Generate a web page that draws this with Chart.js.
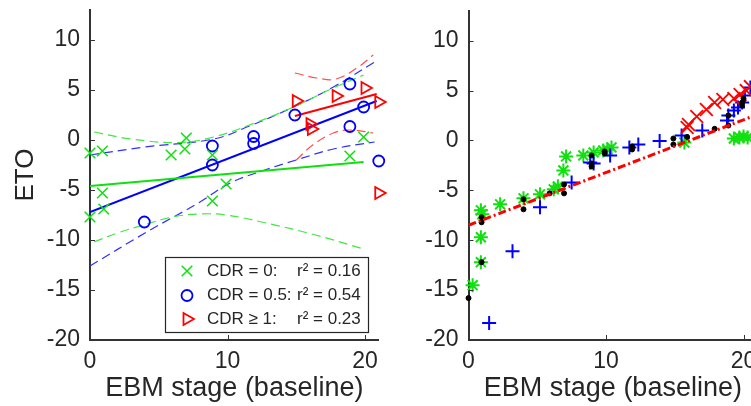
<!DOCTYPE html>
<html>
<head>
<meta charset="utf-8">
<script src="https://cdn.jsdelivr.net/npm/chart.js@4.4.0/dist/chart.umd.min.js"></script>
<style>
  html, body { margin: 0; padding: 0; background: #fff; overflow: hidden; width: 751px; height: 406px; }
  .panel { position: absolute; top: 0; height: 406px; }
  #left-panel { left: 0; width: 390px; }
  #right-panel { left: 390px; width: 400px; }
</style>
</head>
<body>
<div class="panel" id="left-panel"><canvas id="eto-by-cdr" width="390" height="406"></canvas></div>
<div class="panel" id="right-panel"><canvas id="eto-quantiles" width="400" height="406"></canvas></div>
<script>
// shared axis ticks
var yTickValues = [-20, -15, -10, -5, 0, 5, 10];
var xTickValues = [0, 10, 20];

// left panel: ETO against baseline EBM stage, by CDR group
var cdr0Stage = [0, 0.9, 5.9, 6.9, 7, 8.9, 9.9, 8.9, 0.9, 1, 0, 19.9, 18.9];
var cdr0Eto = [-1.3, -1.1, -1.5, -0.9, 0.2, -1.5, -4.4, -6.1, -5.3, -6.9, -7.7, 0.3, -1.6];
var cdr05Stage = [3.95, 8.9, 8.9, 11.9, 11.9, 14.9, 18.9, 18.9, 19.9, 21];
var cdr05Eto = [-8.2, -0.6, -2.5, 0.35, -0.35, 2.5, 5.6, 1.35, 3.3, -2.1];
var cdr1Stage = [15, 17.9, 20, 21, 16, 16.1, 21];
var cdr1Eto = [3.9, 4.4, 5.2, 3.8, 1.6, 1.1, -5.3];

// fitted lines and their confidence bounds
var cdr0FitStage = [0, 19.9];
var cdr0FitEto = [-4.6, -2.2];
var cdr05FitStage = [0, 20.85];
var cdr05FitEto = [-7.2, 3.9];
var cdr1FitStage = [14.9, 20.85];
var cdr1FitEto = [2.4, 4.6];

var cdr0UpperStage = [0.3, 3, 6.5, 9, 11.6, 14.8, 17.7, 19.9];
var cdr0UpperEto = [0.8, 0.1, -0.25, 0.3, 1.5, 3.3, 5.2, 6.5];
var cdr0LowerStage = [0.3, 2, 3.9, 6, 8, 9.9, 12.8, 16.4, 19.9];
var cdr0LowerEto = [-10.2, -9.3, -8.5, -7.7, -7.4, -7.5, -8.3, -9.5, -10.9];
var cdr05UpperStage = [0, 4, 9, 11.6, 14.8, 17.7, 20.7];
var cdr05UpperEto = [-1.5, -0.7, 0.1, 1.4, 3.3, 5.3, 7.8];
var cdr05LowerStage = [0, 4, 8, 10.2, 12.5, 15, 17.7, 20.7];
var cdr05LowerEto = [-12.6, -9.3, -6.2, -4.3, -3.1, -2, -0.9, -0.2];
var cdr1UpperStage = [14.9, 16.5, 17.9, 19.4, 20.6];
var cdr1UpperEto = [6.7, 6.2, 6.1, 7.2, 8.5];
var cdr1LowerStage = [15, 16.2, 17.7, 18.9, 20.6];
var cdr1LowerEto = [-2, -0.5, 0.7, 1.0, 0.7];

// right panel: quantiles and per-group correlation
var pearsonStage = [0, 21];
var pearsonEto = [-8.5, 2.6];
var quantStage = [0, 0.95, 0.95, 0.95, 4.0, 4.0, 5.9, 6.95, 6.95, 8.95, 8.95, 8.95, 9.9, 9.9, 11.9, 11.9, 14.9, 14.9, 15.9, 17.9, 18.9, 18.9, 19.9, 19.9, 20.0];
var quantEto = [-15.8, -12.2, -7.7, -8.2, -5.9, -6.9, -5.3, -5.3, -4.4, -1.5, -2.3, -2.6, -1.1, -1.3, -0.6, -0.9, 0.2, -0.4, 0.35, 1.17, 2.5, 1.5, 3.8, 3.5, 4.2];
var rCdr0Stage = [0.3, 0.9, 0.9, 0.9, 1.0, 2.3, 4.0, 5.2, 6.2, 6.5, 6.9, 7.1, 8.35, 9.1, 9.8, 10.1, 10.4, 15.7, 19.3, 19.7, 20.0, 20.3];
var rCdr0Eto = [-14.5, -12.2, -9.7, -7.0, -7.4, -6.4, -5.8, -5.4, -4.9, -4.6, -3.0, -1.6, -1.5, -1.2, -1.0, -0.9, -0.7, -0.2, 0.2, 0.3, 0.4, 0.3];
var rCdr05Stage = [1.5, 3.2, 5.2, 7.5, 8.85, 9.1, 10.3, 11.7, 12.35, 13.9, 15.5, 17.0, 18.8, 18.9, 19.3, 19.6, 19.9, 20.1, 20.5];
var rCdr05Eto = [-18.3, -11.1, -6.7, -4.2, -2.2, -2.3, -1.5, -0.7, -0.4, -0.05, 0.5, 1.0, 2.0, 2.5, 3.0, 3.3, 3.8, 4.5, 5.3];
var rCdr1Stage = [15.9, 16.0, 16.6, 17.3, 17.9, 18.5, 19.3, 19.75, 20.2, 20.5];
var rCdr1Eto = [1.3, 1.6, 2.4, 3.1, 3.8, 4.1, 4.2, 4.6, 5.0, 5.4];

var GREEN = '#10e010', BLUE = '#0000ff', RED = '#ff0000';
var TEXT = '#262626', AXIS = '#333333';

Chart.defaults.font.family = '"Liberation Sans", Arial, Helvetica, sans-serif';
Chart.defaults.color = TEXT;

function toPoints(xs, ys) {
  var pts = [];
  for (var i = 0; i < xs.length; i++) pts.push({ x: xs[i], y: ys[i] });
  return pts;
}

function markers(xs, ys, color, style, radius, extra) {
  var ds = {
    data: toPoints(xs, ys),
    showLine: false,
    pointStyle: style,
    pointRadius: radius,
    pointBorderColor: color,
    pointBackgroundColor: 'rgba(0,0,0,0)',
    pointBorderWidth: 1.5,
    clip: false
  };
  for (var k in extra) ds[k] = extra[k];
  return ds;
}

function line(xs, ys, color, width, dash, tension) {
  return {
    data: toPoints(xs, ys),
    showLine: true,
    pointRadius: 0,
    borderColor: color,
    borderWidth: width,
    borderDash: dash || [],
    tension: tension || 0,
    fill: false
  };
}

// tick marks drawn pointing into the plot
var insideTicks = {
  id: 'insideTicks',
  afterDatasetsDraw: function (chart) {
    var ctx = chart.ctx, area = chart.chartArea;
    var xs = chart.scales.x, ys = chart.scales.y;
    ctx.save();
    ctx.strokeStyle = AXIS;
    ctx.lineWidth = 1;
    ctx.beginPath();
    xs.ticks.forEach(function (t) {
      var px = Math.round(xs.getPixelForValue(t.value)) + 0.5;
      ctx.moveTo(px, area.bottom);
      ctx.lineTo(px, area.bottom - 5);
    });
    ys.ticks.forEach(function (t) {
      var py = Math.round(ys.getPixelForValue(t.value)) + 0.5;
      ctx.moveTo(area.left, py);
      ctx.lineTo(area.left + 5, py);
    });
    ctx.stroke();
    ctx.restore();
  }
};

// boxed legend inside the axes, one row per dataset
function boxLegend(cfg) {
  return {
    id: 'boxLegend',
    afterDraw: function (chart) {
      var ctx = chart.ctx;
      ctx.save();
      ctx.fillStyle = '#fff';
      ctx.fillRect(cfg.left, cfg.top, cfg.width, cfg.height);
      ctx.strokeStyle = TEXT;
      ctx.lineWidth = 1.2;
      ctx.strokeRect(cfg.left + 0.5, cfg.top + 0.5, cfg.width, cfg.height);
      ctx.font = '17px "Liberation Sans", Arial, sans-serif';
      ctx.textBaseline = 'middle';
      cfg.rows.forEach(function (row) {
        var ds = chart.data.datasets[row.dataset];
        ctx.save();
        if (ds.showLine) {
          ctx.strokeStyle = ds.borderColor;
          ctx.lineWidth = ds.borderWidth;
          ctx.setLineDash(ds.borderDash || []);
          ctx.beginPath();
          ctx.moveTo(cfg.markerX - 16, row.y);
          ctx.lineTo(cfg.markerX + 16, row.y);
          ctx.stroke();
        } else {
          ctx.strokeStyle = ds.pointBorderColor;
          ctx.fillStyle = ds.pointBackgroundColor;
          ctx.lineWidth = ds.pointBorderWidth;
          Chart.helpers.drawPoint(ctx, {
            pointStyle: ds.pointStyle,
            rotation: ds.pointRotation || 0,
            radius: ds.pointRadius,
            borderWidth: ds.pointBorderWidth
          }, cfg.markerX, row.y);
        }
        ctx.restore();
        ctx.fillStyle = TEXT;
        ctx.fillText(row.label, cfg.textX, row.y);
        if (row.stat) ctx.fillText(row.stat, cfg.statX, row.y);
      });
      ctx.restore();
    }
  };
}

function scales(yWidth, yTitle) {
  return {
    x: {
      type: 'linear', min: 0, max: 21,
      afterBuildTicks: function (s) { s.ticks = xTickValues.map(function (v) { return { value: v }; }); },
      afterFit: function (s) { s.height = 66; s.paddingLeft = 0; s.paddingRight = 0; },
      grid: { display: false, drawTicks: false },
      border: { display: true, color: AXIS, width: 2 },
      ticks: { color: TEXT, font: { size: 23 }, padding: 8, maxRotation: 0, autoSkip: false },
      title: { display: true, text: 'EBM stage (baseline)', color: TEXT, font: { size: 27 }, padding: { top: 0, bottom: 1 } }
    },
    y: {
      type: 'linear', min: -20, max: 13,
      afterBuildTicks: function (s) { s.ticks = yTickValues.map(function (v) { return { value: v }; }); },
      afterFit: function (s) { s.width = yWidth; s.paddingTop = 0; s.paddingBottom = 0; },
      grid: { display: false, drawTicks: false },
      border: { display: true, color: AXIS, width: 2 },
      ticks: { color: TEXT, font: { size: 23 }, padding: 10, autoSkip: false },
      title: { display: !!yTitle, text: yTitle || '', color: TEXT, font: { size: 26 }, padding: { top: 10, bottom: 0 } }
    }
  };
}

var baseOptions = function (yWidth, yTitle, rightPad) {
  return {
    responsive: false,
    animation: false,
    devicePixelRatio: 1,
    events: [],
    layout: { padding: { left: 0, top: 10, right: rightPad, bottom: 0 } },
    plugins: { legend: { display: false }, tooltip: { enabled: false } },
    scales: scales(yWidth, yTitle)
  };
};

new Chart(document.getElementById('eto-by-cdr'), {
  type: 'scatter',
  data: {
    datasets: [
      markers(cdr0Stage, cdr0Eto, GREEN, 'crossRot', 7.5),
      markers(cdr05Stage, cdr05Eto, BLUE, 'circle', 5.5, { pointBorderWidth: 1.8 }),
      markers(cdr1Stage, cdr1Eto, RED, 'triangle', 7, { pointRotation: 90, pointBorderWidth: 1.8 }),
      line(cdr0FitStage, cdr0FitEto, GREEN, 2),
      line(cdr05FitStage, cdr05FitEto, BLUE, 2),
      line(cdr1FitStage, cdr1FitEto, RED, 2),
      line(cdr0UpperStage, cdr0UpperEto, '#40e840', 1.2, [9, 5], 0.4),
      line(cdr0LowerStage, cdr0LowerEto, '#40e840', 1.2, [9, 5], 0.4),
      line(cdr05UpperStage, cdr05UpperEto, '#3030ff', 1.2, [9, 5], 0.4),
      line(cdr05LowerStage, cdr05LowerEto, '#3030ff', 1.2, [9, 5], 0.4),
      line(cdr1UpperStage, cdr1UpperEto, '#ff5050', 1.2, [9, 5], 0.4),
      line(cdr1LowerStage, cdr1LowerEto, '#ff5050', 1.2, [9, 5], 0.4)
    ]
  },
  options: baseOptions(90, 'ETO', 390 - (90 + 21 * 13.75)),
  plugins: [insideTicks, boxLegend({
    left: 165, top: 257, width: 203, height: 75,
    markerX: 187, textX: 207, statX: 297,
    rows: [
      { dataset: 0, y: 271, label: 'CDR = 0:', stat: 'r\u00b2 = 0.16' },
      { dataset: 1, y: 295.5, label: 'CDR = 0.5:', stat: 'r\u00b2 = 0.54' },
      { dataset: 2, y: 319, label: 'CDR \u2265 1:', stat: 'r\u00b2 = 0.23' }
    ]
  })]
});

var pearson = line(pearsonStage, pearsonEto, RED, 3, [8, 3, 2, 3]);
pearson.order = 0;
new Chart(document.getElementById('eto-quantiles'), {
  type: 'scatter',
  data: {
    datasets: [
      pearson,
      markers(quantStage, quantEto, '#000000', 'circle', 2.5, { pointBackgroundColor: '#000000', pointBorderWidth: 1, order: 1 }),
      markers(rCdr0Stage, rCdr0Eto, GREEN, 'star', 7, { pointBorderWidth: 2, order: 4 }),
      markers(rCdr05Stage, rCdr05Eto, BLUE, 'cross', 7, { pointBorderWidth: 2, order: 3 }),
      markers(rCdr1Stage, rCdr1Eto, RED, 'crossRot', 9, { pointBorderWidth: 1.8, order: 2 })
    ]
  },
  options: baseOptions(78.5, null, 400 - (78.5 + 21 * 13.75)),
  plugins: [insideTicks, boxLegend({
    left: 551, top: 235, width: 197, height: 97,
    markerX: 573, textX: 594, statX: 683,
    rows: [
      { dataset: 0, y: 246, label: "Pearson's r = 0.75" },
      { dataset: 1, y: 264.5, label: 'Quantiles' },
      { dataset: 2, y: 282.5, label: 'CDR = 0:', stat: 'r = 0.62' },
      { dataset: 3, y: 301, label: 'CDR = 0.5:', stat: 'r = 0.90' },
      { dataset: 4, y: 319.5, label: 'CDR \u2265 1:', stat: 'r = 0.98' }
    ]
  })]
});
</script>
</body>
</html>
